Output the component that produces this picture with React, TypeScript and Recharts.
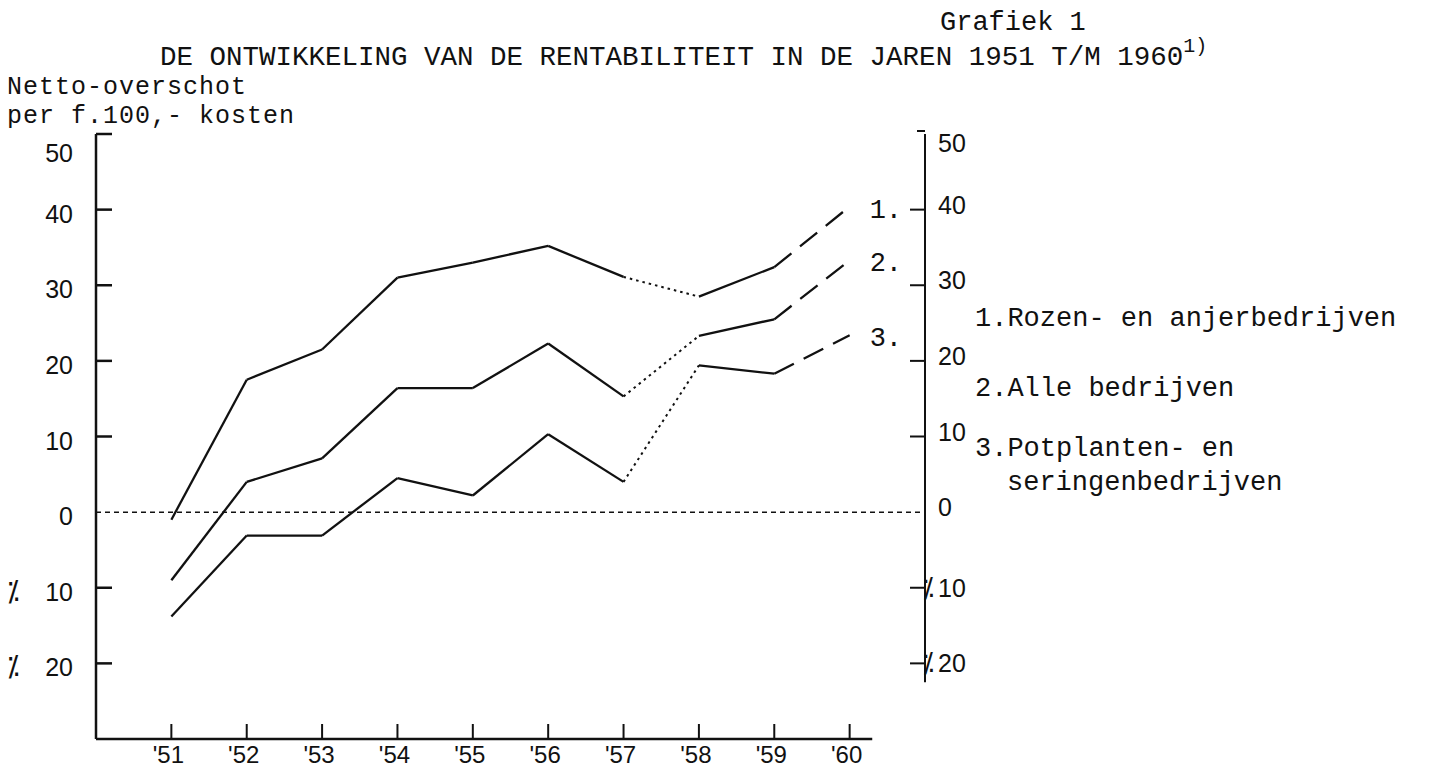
import React from 'react';
import { LineChart, Line, XAxis, YAxis, ReferenceLine } from 'recharts';

const years = [1951, 1952, 1953, 1954, 1955, 1956, 1957, 1958, 1959, 1960];
const yearLabels = ["'51", "'52", "'53", "'54", "'55", "'56", "'57", "'58", "'59", "'60"];

// netto-overschot per f.100,- kosten
const rozen = [-1, 17.5, 21.5, 31, 33, 35.2, 31.1, 28.5, 32.4, 40.4];
const alle = [-9, 4, 7.1, 16.4, 16.4, 22.3, 15.3, 23.3, 25.5, 33.3];
const potplanten = [-13.8, -3.1, -3.1, 4.5, 2.2, 10.3, 4, 19.4, 18.3, 23.4];

// how each step from one year to the next is drawn
const stepStyles = ['solid', 'solid', 'solid', 'solid', 'solid', 'solid', 'dotted', 'solid', 'dashed'];

const yTicks = [50, 40, 30, 20, 10, 0, -10, -20];
const legendLines = ['1.Rozen- en anjerbedrijven', '2.Alle bedrijven', '3.Potplanten- en', 'seringenbedrijven'];

const series = [rozen, alle, potplanten];

const data = years.map((year, i) => {
  const row: Record<string, number | null> = { year };
  series.forEach((vals, s) => {
    stepStyles.forEach((_, k) => {
      row[`s${s}_${k}`] = i === k || i === k + 1 ? vals[i] : null;
    });
  });
  return row;
});

const INK = '#111';
const MONO = '"Liberation Mono", "Courier New", monospace';
const SANS = '"Liberation Sans", Arial, sans-serif';
const MINUS = '\u2052';

const dashFor: Record<string, string | undefined> = {
  solid: undefined,
  dotted: '2.5 4',
  dashed: '22 11',
};

const LeftTick = (props: any) => {
  const { x, y, payload } = props;
  const v = payload.value as number;
  const dy = v === 50 ? 28 : 13;
  return (
    <g>
      {v !== 0 && <line x1={x} x2={x + 16} y1={y} y2={y} stroke={INK} strokeWidth={2.5} />}
      {v < 0 && (
        <text x={13} y={y + dy} textAnchor="middle" fontFamily='"DejaVu Sans", sans-serif' fontSize={28} fill={INK}>
          {MINUS}
        </text>
      )}
      <text x={x - 23} y={y + dy} textAnchor="end" fontFamily={SANS} fontSize={25} fill={INK}>
        {Math.abs(v)}
      </text>
    </g>
  );
};

const RightTick = (props: any) => {
  const { x, y, payload } = props;
  const v = payload.value as number;
  const dy = v === 50 ? 18 : v < 0 ? 9 : 4;
  return (
    <g>
      {v !== 0 && v !== 50 && <line x1={x - 15} x2={x} y1={y} y2={y} stroke={INK} strokeWidth={2} />}
      {v === 50 && <line x1={x - 8} x2={x} y1={y - 3} y2={y - 3} stroke={INK} strokeWidth={2} />}
      {v < 0 && (
        <text x={x + 3} y={y + dy} textAnchor="middle" fontFamily='"DejaVu Sans", sans-serif' fontSize={26} fill={INK}>
          {MINUS}
        </text>
      )}
      <text x={x + 13} y={y + dy} textAnchor="start" fontFamily={SANS} fontSize={25} fill={INK}>
        {Math.abs(v)}
      </text>
    </g>
  );
};

const XTick = (props: any) => {
  const { x, y, payload } = props;
  const idx = years.indexOf(payload.value);
  return (
    <g>
      <line x1={x} x2={x} y1={y} y2={y - 15} stroke={INK} strokeWidth={2} />
      <text x={x - 3} y={y + 24} textAnchor="middle" fontFamily={SANS} fontSize={24} fill={INK}>
        {yearLabels[idx]}
      </text>
    </g>
  );
};

const endLabel = (s: number) => (p: any) => {
  if (p.payload?.year !== 1960 || p.cy == null) return <g key={`e${s}-${p.index}`} />;
  return (
    <text key={`e${s}-${p.index}`} x={p.cx + 20} y={p.cy + 11} fontFamily={MONO} fontSize={27} fill={INK}>
      {`${s + 1}.`}
    </text>
  );
};

export default function App() {
  const last = stepStyles.length - 1;
  return (
    <div style={{ position: 'absolute', left: 0, top: 0, width: 1446, height: 769, background: '#fff' }}>
      <LineChart width={1446} height={769} data={data} margin={{ top: 134, right: 421, bottom: 0, left: 16 }}>
        <XAxis
          dataKey="year"
          type="number"
          domain={[1950, 1961]}
          ticks={years}
          interval={0}
          axisLine={false}
          tickLine={false}
          tickSize={0}
          tickMargin={0}
          height={30}
          tick={<XTick />}
        />
        <YAxis
          yAxisId="left"
          type="number"
          domain={[-30, 50]}
          ticks={yTicks}
          interval={0}
          width={80}
          axisLine={{ stroke: INK, strokeWidth: 2.5 }}
          tickLine={false}
          tickSize={0}
          tickMargin={0}
          tick={<LeftTick />}
        />
        <YAxis
          yAxisId="right"
          orientation="right"
          type="number"
          domain={[-30, 50]}
          ticks={yTicks}
          interval={0}
          width={100}
          axisLine={false}
          tickLine={false}
          tickSize={0}
          tickMargin={0}
          tick={<RightTick />}
        />
        <ReferenceLine yAxisId="left" y={0} stroke={INK} strokeWidth={1.5} strokeDasharray="5 4" />
        <ReferenceLine
          yAxisId="left"
          segment={[{ x: 1950, y: -30 }, { x: 1960.3, y: -30 }]}
          stroke={INK}
          strokeWidth={2.5}
        />
        <ReferenceLine
          yAxisId="right"
          segment={[{ x: 1961, y: 50 }, { x: 1961, y: -22.5 }]}
          stroke={INK}
          strokeWidth={2}
        />
        {series.map((_, s) =>
          stepStyles.map((style, k) => (
            <Line
              key={`s${s}_${k}`}
              yAxisId={k === last ? 'right' : 'left'}
              type="linear"
              dataKey={`s${s}_${k}`}
              stroke={INK}
              strokeWidth={style === 'dotted' ? 2 : 2.3}
              strokeDasharray={dashFor[style]}
              dot={k === last ? endLabel(s) : false}
              activeDot={false}
              connectNulls={false}
              isAnimationActive={false}
            />
          ))
        )}
      </LineChart>
      <svg
        width={1446}
        height={769}
        style={{ position: 'absolute', left: 0, top: 0, pointerEvents: 'none' }}
      >
        <g fontFamily={MONO} fill={INK}>
          <text x={940} y={30} fontSize={27}>Grafiek 1</text>
          <text x={160} y={65} fontSize={27.5}>
            DE ONTWIKKELING VAN DE RENTABILITEIT IN DE JAREN 1951 T/M 1960
            <tspan dy={-13} fontSize={20}>1)</tspan>
          </text>
          <text x={7} y={94} fontSize={25} letterSpacing={1}>Netto-overschot</text>
          <text x={7} y={123} fontSize={25} letterSpacing={1}>per f.100,- kosten</text>
          <text x={975} y={326} fontSize={27}>{legendLines[0]}</text>
          <text x={975} y={396} fontSize={27}>{legendLines[1]}</text>
          <text x={975} y={456} fontSize={27}>{legendLines[2]}</text>
          <text x={1007} y={490} fontSize={27}>{legendLines[3]}</text>
        </g>
      </svg>
    </div>
  );
}
